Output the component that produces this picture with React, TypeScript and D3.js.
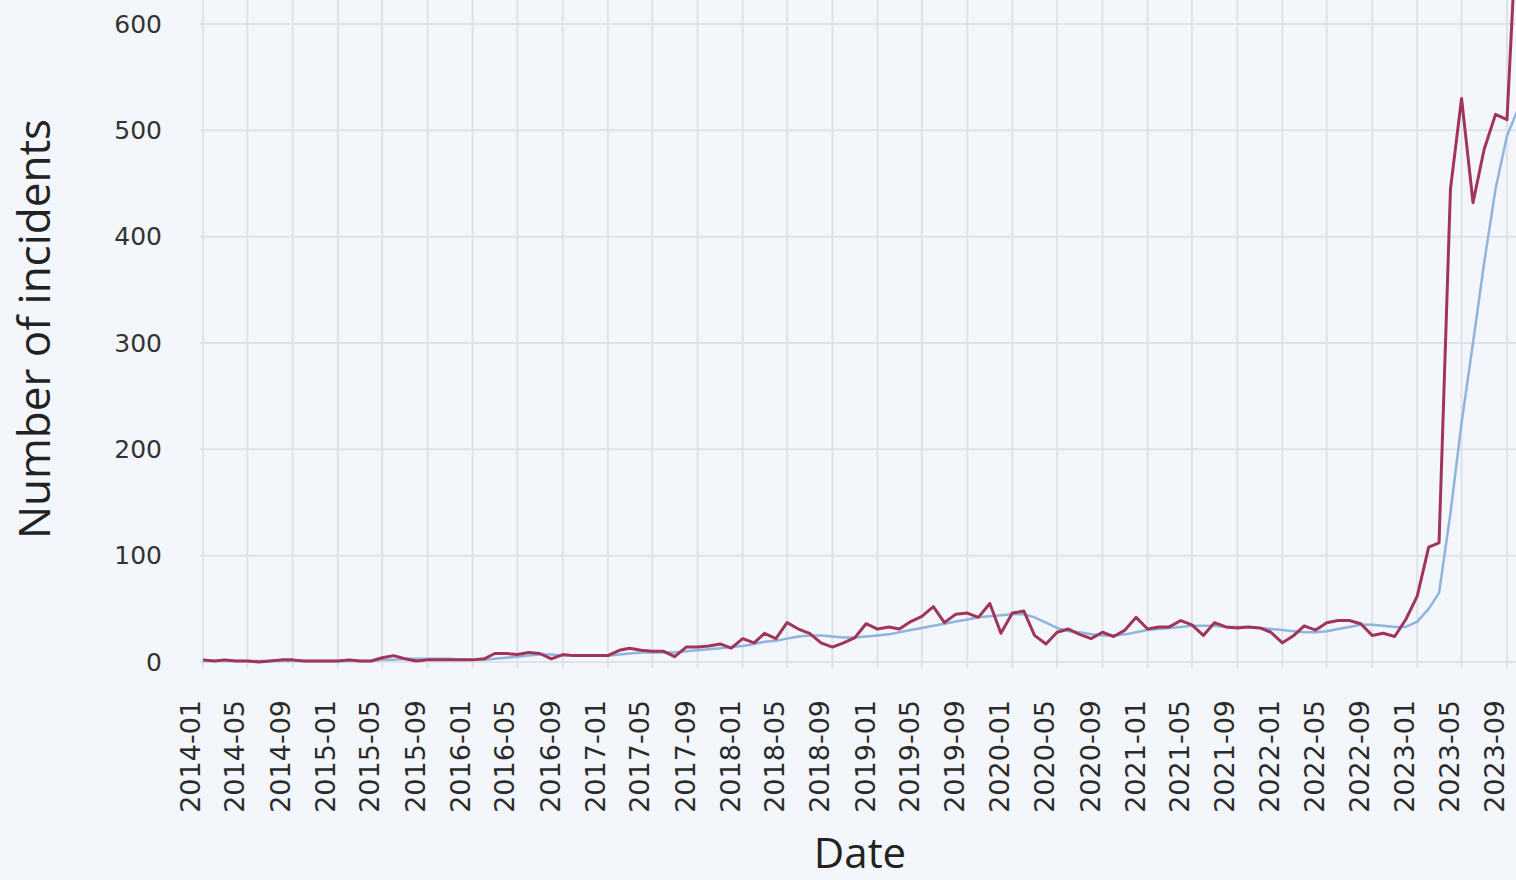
import * as d3 from 'd3';
import { useEffect, useRef } from "react";

// monthly incidents, 2014-01 .. 2023-10
const startMonth = '2014-01';
const incidents = [
    2, 1, 2, 1, 1, 0, 1, 2, 2, 1, 1, 1,
    1, 2, 1, 1, 4, 6, 3, 1, 2, 2, 2, 2,
    2, 3, 8, 8, 7, 9, 8, 3, 7, 6, 6, 6,
    6, 11, 13, 11, 10, 10, 5, 14, 14, 15, 17, 13,
    22, 18, 27, 22, 37, 31, 27, 18, 14, 18, 23, 36,
    31, 33, 31, 38, 43, 52, 37, 45, 46, 42, 55, 27,
    46, 48, 25, 17, 28, 31, 26, 22, 28, 24, 30, 42,
    31, 33, 33, 39, 35, 25, 37, 33, 32, 33, 32, 28,
    18, 25, 34, 30, 37, 39, 39, 36, 25, 27, 24, 40,
    62, 108, 112, 445, 530, 432, 482, 515, 510, 720,
];
// smoothed trend
const trend = [
    1, 1, 1, 1, 1, 1, 1, 1, 1, 1, 1, 1,
    1, 1, 1, 1, 2, 2, 3, 3, 3, 3, 3, 2,
    2, 2, 3, 4, 5, 6, 7, 7, 6, 6, 6, 6,
    6, 7, 8, 9, 9, 9, 9, 10, 11, 12, 13, 14,
    15, 17, 19, 20, 22, 24, 25, 25, 24, 23, 23, 24,
    25, 26, 28, 30, 32, 34, 36, 38, 40, 42, 43, 44,
    45, 45, 42, 37, 32, 29, 28, 26, 25, 25, 26, 28,
    30, 31, 32, 33, 34, 34, 34, 33, 33, 33, 32, 31,
    30, 29, 28, 28, 29, 31, 33, 35, 35, 34, 33, 33,
    38, 50, 65, 140, 225, 300, 375, 445, 495, 520,
];
const yTicks = [0, 100, 200, 300, 400, 500, 600];

const WIDTH = 1516;
const HEIGHT = 880;
const BG = '#f3f6fa';
const RED = '#a0345b';
const BLUE = '#8fb4de';
const GRID = '#dfe3e9';

export default function App() {
    const ref = useRef(null);
    useEffect(() => {
        if (!ref.current) return;
        const svg = d3.select(ref.current);
        svg.selectAll("*").remove();

        const t0 = d3.timeParse('%Y-%m')(startMonth) as Date;
        const dates = incidents.map((_, i) => d3.timeMonth.offset(t0, i));

        const x = d3.scaleTime()
            .domain([t0, d3.timeMonth.offset(t0, 116)])
            .range([203, 1507]);
        const y = d3.scaleLinear().domain([0, 600]).range([662, 24]);

        svg.append('rect').attr('width', WIDTH).attr('height', HEIGHT).attr('fill', BG);

        svg.append('clipPath').attr('id', 'plot')
            .append('rect').attr('x', 200).attr('y', 0).attr('width', WIDTH - 200).attr('height', 668);

        const xTicks = x.ticks(d3.timeMonth.every(4) as d3.TimeInterval);
        const fmt = d3.timeFormat('%Y-%m');

        // grid
        svg.append('g').selectAll('line')
            .data(yTicks)
            .enter()
            .append('line')
            .attr('x1', 200).attr('x2', WIDTH)
            .attr('y1', d => y(d)).attr('y2', d => y(d))
            .attr('stroke', GRID).attr('stroke-width', 2);

        svg.append('g').selectAll('line')
            .data(xTicks)
            .enter()
            .append('line')
            .attr('x1', d => x(d)).attr('x2', d => x(d))
            .attr('y1', 0).attr('y2', 668)
            .attr('stroke', GRID).attr('stroke-width', 2);

        // tick labels
        svg.append('g').selectAll('text')
            .data(yTicks)
            .enter()
            .append('text')
            .attr('x', 162)
            .attr('y', d => y(d))
            .attr('dy', '0.35em')
            .attr('text-anchor', 'end')
            .attr('font-family', 'DejaVu Sans')
            .attr('font-size', 25)
            .attr('fill', '#333')
            .text(d => d);

        svg.append('g').selectAll('text')
            .data(xTicks)
            .enter()
            .append('text')
            .attr('transform', d => `translate(${x(d) - 3}, 700) rotate(-90)`)
            .attr('text-anchor', 'end')
            .attr('font-family', 'DejaVu Sans')
            .attr('font-size', 27)
            .attr('fill', '#2a2a2a')
            .text(d => fmt(d));

        // lines
        const line = d3.line<number>()
            .x((_, i) => x(dates[i]))
            .y(d => y(d));

        const plot = svg.append('g').attr('clip-path', 'url(#plot)');
        plot.append('path')
            .attr('d', line(trend))
            .attr('fill', 'none')
            .attr('stroke', BLUE)
            .attr('stroke-width', 2.5)
            .attr('stroke-linejoin', 'round');
        plot.append('path')
            .attr('d', line(incidents))
            .attr('fill', 'none')
            .attr('stroke', RED)
            .attr('stroke-width', 3)
            .attr('stroke-linejoin', 'round');

        // axis titles
        svg.append('text')
            .attr('transform', 'translate(50, 329) rotate(-90)')
            .attr('text-anchor', 'middle')
            .attr('font-family', 'Open Sans')
            .attr('font-size', 44)
            .attr('fill', '#222')
            .text('Number of incidents');

        svg.append('text')
            .attr('x', 860)
            .attr('y', 868)
            .attr('text-anchor', 'middle')
            .attr('font-family', 'Open Sans')
            .attr('font-size', 42)
            .attr('fill', '#222')
            .text('Date');
    }, []);

    return (
        <svg ref={ref} width={WIDTH} height={HEIGHT}
            style={{ position: 'absolute', left: 0, top: 0, display: 'block' }}></svg>
    );
}
